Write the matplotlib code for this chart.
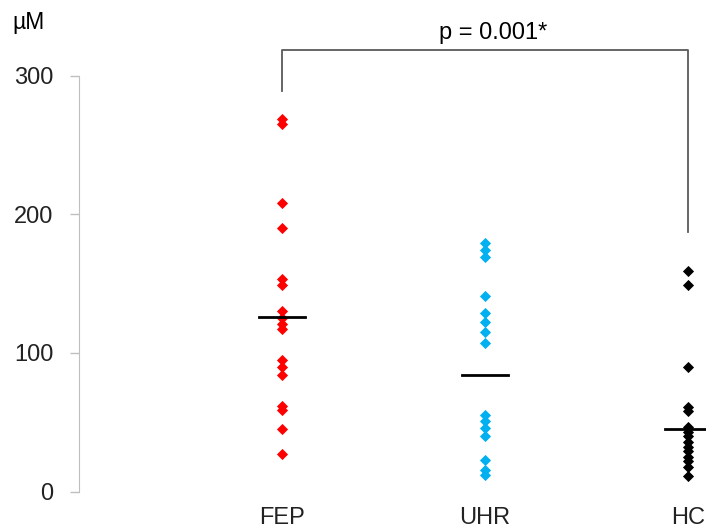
import numpy as np
import matplotlib.pyplot as plt

plt.rcParams['font.family'] = ['Liberation Sans', 'DejaVu Sans']

categories = ['FEP', 'UHR', 'HC']
fep = [269, 265, 208, 190, 153, 149, 130, 125, 121, 117, 95, 90, 84, 62, 59, 45, 27]
uhr = [179, 174, 169, 141, 129, 122, 115, 107, 55, 51, 46, 40, 23, 16, 12]
hc = [159, 149, 90, 61, 58, 47, 43, 40, 36, 32, 29, 25, 22, 18, 11]
group_means = [126, 84, 45]
colors = ['#FF0000', '#00B0F0', '#000000']
yticks = [0, 100, 200, 300]
p_text = 'p = 0.001*'

fig = plt.figure(figsize=(7.06, 5.32), dpi=100)
ax = fig.add_axes([79 / 706, 40.3 / 532, 627 / 706, 491.7 / 532])

groups = [fep, uhr, hc]
xpos = np.arange(1, len(categories) + 1)
for x, vals, c in zip(xpos, groups, colors):
    ax.plot([x] * len(vals), vals, linestyle='none', marker='D',
            markersize=5.5, color=c, markeredgewidth=0.6, clip_on=False)

for x, m in zip(xpos, group_means):
    ax.plot([x - 0.115, x + 0.115], [m, m], color='black', lw=2)

# significance bracket FEP vs HC
ax.plot([1, 1, 3, 3], [289, 318.5, 318.5, 187], color='#595959', lw=1.3,
        clip_on=False)
ax.text(2.04, 323, p_text, ha='center', va='bottom', fontsize=17)

ax.text(-0.25, 338, 'µM', ha='center', va='center', fontsize=16.5,
        clip_on=False)

ax.set_xlim(0, 627 / 203)
ax.set_ylim(0, 354.5)
ax.set_yticks(yticks)
ax.set_xticks(xpos)
ax.set_xticklabels(categories)

for s in ['top', 'right', 'bottom']:
    ax.spines[s].set_visible(False)
ax.spines['left'].set_bounds(0, 300)
ax.spines['left'].set_color('#BFBFBF')
ax.tick_params(axis='y', length=6.5, width=1, color='#BFBFBF', pad=12,
               labelsize=17, labelcolor='#222222')
ax.tick_params(axis='x', length=0, pad=11, labelsize=17, labelcolor='#222222')

fig.savefig('out.png', dpi=100)
